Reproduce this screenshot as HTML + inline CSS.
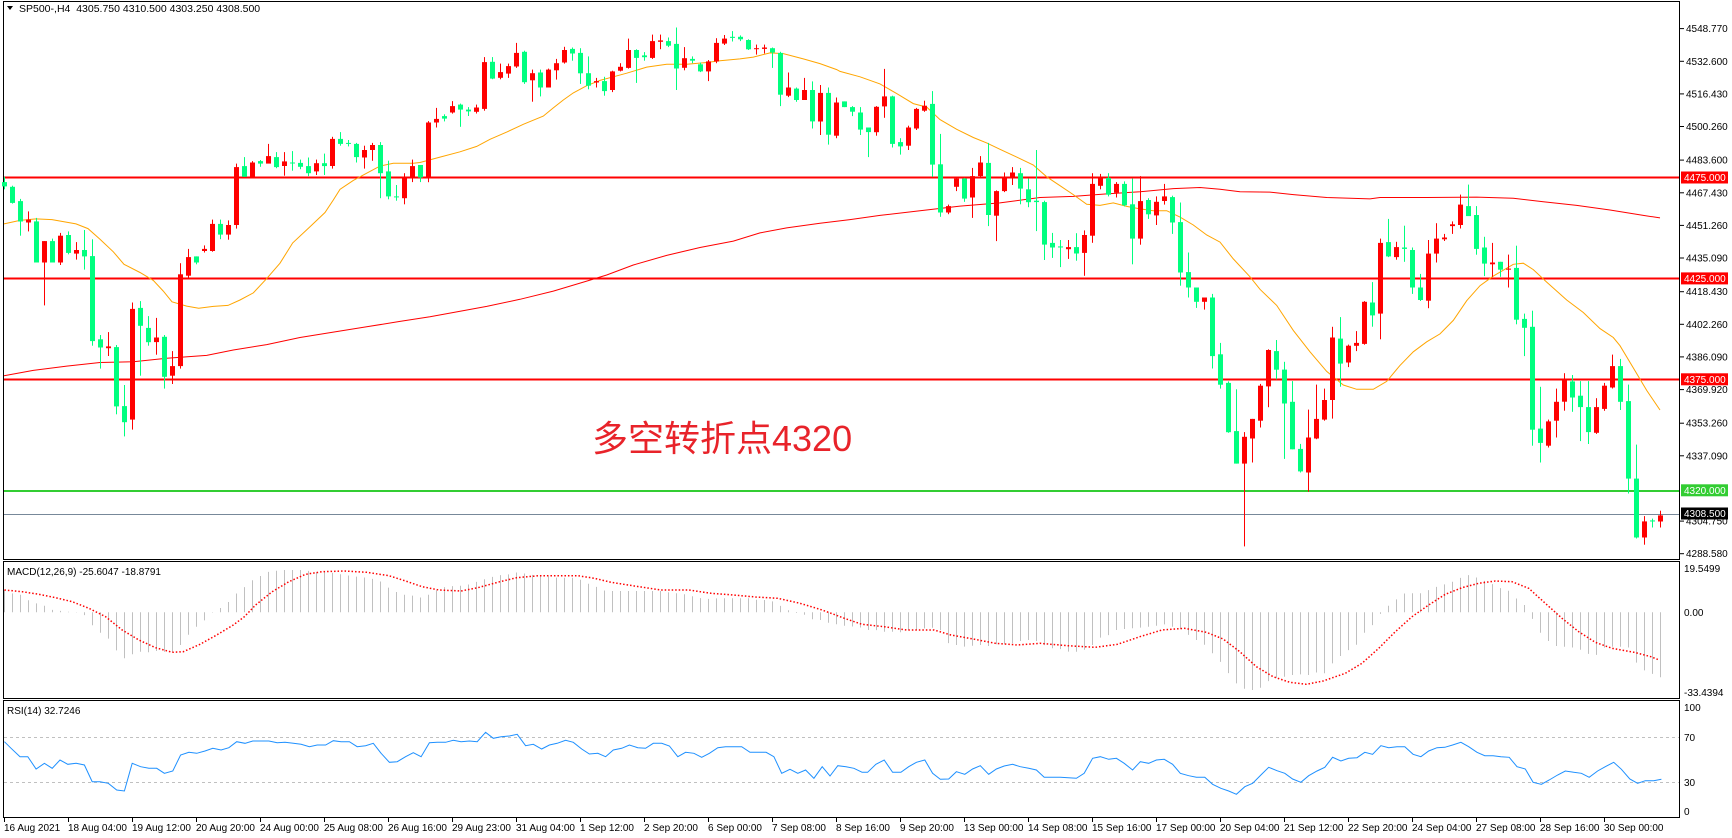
<!DOCTYPE html>
<html><head><meta charset="utf-8"><style>
html,body{margin:0;padding:0;background:#fff;width:1732px;height:838px;overflow:hidden}
svg{display:block}
text{font-family:"Liberation Sans","Noto Sans CJK SC",sans-serif}
</style></head><body>
<svg id="s" width="1732" height="838" xmlns="http://www.w3.org/2000/svg"></svg>
<script>
const S=document.getElementById('s');let h='';
function add(t){h+=t;}
const C=`G 510 522 495 530|G 523 568 520 570|G 563 620 557 660|R 615 623 592 648|G 620 735 610 735|R 675 735 675 855|G 675 735 668 735|R 660 735 652 742|G 658 708 648 712|R 700 710 678 727|G 700 718 644 755|G 717 955 670 968|G 950 973 938 1032|R 970 975 930 997|G 972 1138 966 1160|G 1137 1182 1078 1222|R 865 1175 847 1203|G 862 912 843 1052|G 918 958 885 968|R 945 958 890 993|G 943 1055 938 1088|R 1025 1052 983 1075|R 768 1025 737 1032|R 720 772 697 777|G 718 735 718 740|R 697 703 687 707|R 627 703 615 705|G 627 657 615 670|R 630 657 617 671|R 468 630 458 640|G 465 495 440 495|R 455 495 451 497|G 451 458 448 467|R 437 458 403 458|G 440 468 426 471|R 452 465 426 492|G 455 457 423 478|G 456 467 447 474|G 465 485 441 493|R 457 480 447 490|G 457 465 430 490|R 389 465 383 472|G 389 403 370 408|G 400 402 392 410|G 403 440 400 455|R 420 441 408 472|R 406 420 400 450|G 406 485 398 555|G 480 550 450 558|G 550 552 518 562|R 497 555 485 572|R 465 497 447 510|G 462 497 462 510|R 343 497 339 510|R 333 343 302 357|G 325 332 320 340|R 297 315 283 318|G 293 307 290 355|G 307 312 300 325|R 301 313 293 318|R 174 305 160 310|G 173 220 160 222|R 202 218 178 222|R 185 206 178 218|R 148 186 120 190|G 145 230 142 235|R 205 225 195 285|G 203 245 195 270|R 195 245 192 245|R 177 197 165 223|R 140 175 131 178|G 137 150 133 170|G 148 205 135 235|G 205 240 158 250|R 227 231 218 245|G 227 255 215 268|R 200 252 198 258|R 187 198 177 200|R 140 190 108 192|G 140 162 138 232|G 155 160 146 170|R 115 162 97 165|R 113 117 97 138|G 115 128 105 132|G 123 192 77 252|R 163 190 132 197|G 165 170 158 177|G 180 200 175 202|R 172 200 168 227|R 120 172 107 177|R 108 122 98 126|G 103 106 87 116|G 103 110 99 115|G 112 138 110 140|R 135 137 125 153|R 133 137 125 150|G 135 147 133 190|G 148 265 145 297|R 245 268 203 272|G 248 280 245 285|R 252 280 218 280|G 252 340 228 360|R 260 340 238 378|G 260 377 245 405|R 287 380 273 387|G 284 300 284 300|G 300 313 297 325|G 315 363 300 378|G 357 370 357 440|R 299 370 297 380|R 270 298 193 330|G 270 403 268 413|G 398 410 387 433|R 357 408 352 420|R 305 360 302 364|R 296 310 282 313|G 291 461 255 495|G 460 595 375 607|R 577 595 573 600|R 500 523 498 535|G 500 556 498 565|R 493 553 470 610|R 455 493 437 495|G 456 602 400 633|R 535 604 533 675|R 497 535 483 538|R 483 497 468 518|G 485 528 470 572|G 530 566 500 580|G 562 566 420 647|G 566 685 562 728|G 680 693 652 722|G 690 693 672 748|R 692 698 672 725|G 692 710 653 730|R 658 708 645 772|R 515 660 485 680|R 498 520 487 530|G 498 545 485 550|R 515 540 510 553|G 515 575 508 578|G 572 668 500 740|R 563 668 493 685|G 560 600 555 613|R 565 603 550 630|R 550 563 515 573|G 552 623 548 655|G 622 763 567 800|G 762 805 707 833|G 805 845 805 862|R 833 845 833 867|G 833 997 823 1032|G 992 1077 960 1088|G 1072 1210 1068 1212|G 1207 1298 1090 1298|R 1223 1298 1210 1530|R 1173 1228 1173 1295|R 1080 1178 1075 1197|R 980 1082 978 1140|G 983 1035 952 1062|G 1035 1130 1013 1285|G 1125 1258 1067 1258|G 1257 1320 1243 1323|R 1225 1323 1147 1377|R 1173 1228 1077 1230|R 1120 1175 1088 1178|R 945 1120 915 1172|G 948 1018 888 1083|R 968 1015 965 1028|R 960 968 927 983|R 845 963 843 965|G 847 883 790 915|R 680 878 668 950|G 678 718 613 720|R 692 720 677 727|G 693 697 632 733|G 700 805 693 823|G 805 840 767 843|R 710 842 672 863|R 668 710 625 735|R 665 670 655 675|R 628 633 620 655|R 573 630 545 640|G 577 605 517 605|G 602 697 577 713|G 693 738 663 773|R 735 740 680 775|G 733 755 733 775|R 752 755 713 805|G 750 895 688 908|G 893 918 878 997|G 915 1203 870 1248|G 1200 1240 1083 1295|R 1180 1248 1175 1253|R 1125 1178 1088 1225|R 1063 1125 1045 1150|G 1068 1113 1050 1153|G 1108 1140 1067 1235|G 1140 1210 1067 1243|R 1140 1212 1115 1215|R 1080 1145 1072 1150|R 1025 1085 993 1088|G 1025 1125 1005 1148|G 1123 1340 1077 1382|G 1340 1505 1245 1508|R 1460 1505 1445 1525|G 1457 1460 1452 1477|R 1443 1460 1430 1477`.split('|');
add('<rect x="3.5" y="1.5" width="1676" height="558" fill="none" stroke="#000"/>');
add('<rect x="3.5" y="561.5" width="1676" height="137" fill="none" stroke="#000"/>');
add('<rect x="3.5" y="700.5" width="1676" height="117" fill="none" stroke="#000"/>');
[177.5,278.5,379.5].forEach(y=>add(`<line x1="4" x2="1679" y1="${y}" y2="${y}" stroke="#ff0000" stroke-width="2"/>`));
add('<line x1="4" x2="1679" y1="491" y2="491" stroke="#32cd32" stroke-width="2"/>');
add('<line x1="4" x2="1679" y1="514.5" y2="514.5" stroke="#778899" stroke-width="1"/>');
function pts(arr,x0,sx,y0,sy){let o=[];for(let i=0;i<arr.length;i+=2)o.push([x0+arr[i]/sx,y0+arr[i+1]/sy]);return o;}
function pl(p,attr){add(`<polyline fill="none" ${attr} points="${p.map(a=>a[0].toFixed(1)+','+a[1].toFixed(1)).join(' ')}"/>`);}
const red=[].concat(
pts([12,1052,100,1037,200,1025,300,1015,400,1013,500,1003,620,995,700,980,800,965,900,945,1000,930,1100,915,1200,900,1290,887],0,3,0,2.8),
pts([100,875,200,858,300,838,400,815,500,787,560,770,640,742,740,715,840,693,940,675,1020,652,1100,638,1200,625,1290,615],420,3,0,2.8),
pts([120,603,240,590,360,577,480,568,600,553,700,550,800,543,900,537,1000,528,1080,525,1140,530,1200,537,1290,538],840,3,0,2.8),
pts([100,545,200,553,330,557,360,553,500,553,650,552,760,555,850,565,950,575,1050,588,1150,603,1200,610],1260,3,0,2.8));
pl(red,'stroke="#ff0000" stroke-width="1"');
const org=[].concat(
pts([12,627,60,617,108,613,156,615,228,627,264,640,300,670,340,705,372,740,420,763,460,785,490,815,516,845,560,857,596,863,640,858,684,855,720,840,760,820,800,780,840,737,878,680,930,635,975,595,1000,560,1020,530,1060,505,1100,485,1140,465,1180,457,1240,457],0,3,0,2.8),
pts([0,455,60,440,120,425,170,410,210,390,260,370,310,348,370,325,400,302,430,280,460,260,500,240,540,225,580,215,620,205,680,188,740,180,800,180,860,175,900,170,960,165,1000,160,1050,148,1090,150,1150,165,1200,178,1250,195],420,3,0,2.8),
pts([0,200,60,215,120,235,170,262,220,290,260,300,300,335,350,362,400,385,440,400,480,418,530,440,580,462,620,495,660,520,700,545,740,572,780,575,820,568,860,578,900,585,940,590,980,590,1020,608,1060,630,1100,658,1140,678,1180,725,1230,775],840,3,0,2.8),
pts([0,810,50,855,100,925,150,985,200,1040,250,1078,290,1090,340,1090,380,1068,420,1023,460,985,500,957,540,935,580,897,620,842,660,800,700,773,760,740,790,737,820,755,860,790,920,840,970,875,1020,920,1060,945,1080,968,1120,1030,1160,1093,1200,1148],1260,3,0,2.8));
pl(org,'stroke="#ffa500" stroke-width="1"');
C.forEach((c,i)=>{const a=c.split(' ');const col=a[0]=='G'?'#00ff7f':'#ff0000';const x=4+8*i;
const bt=+a[1]/2.8,bb=+a[2]/2.8,wt=+a[3]/2.8,wb=+a[4]/2.8;
add(`<rect x="${x}" y="${wt.toFixed(1)}" width="1" height="${(wb-wt).toFixed(1)}" fill="${col}"/>`);
add(`<rect x="${x-2}" y="${bt.toFixed(1)}" width="5" height="${Math.max(1,bb-bt).toFixed(1)}" fill="${col}"/>`);});
add('<text x="592" y="451" font-size="36" fill="#e8232a" font-family="\'Liberation Sans\',\'Noto Sans CJK SC\',sans-serif">多空转折点4320</text>');
add('<path d="M7 6 L13 6 L10 10 Z" fill="#000"/>');
add('<text x="19" y="12" font-size="10.5" fill="#000">SP500-,H4&#160;&#160;4305.750 4310.500 4303.250 4308.500</text>');
const ticks=[4548.77,4532.6,4516.43,4500.26,4483.6,4467.43,4451.26,4435.09,4418.43,4402.26,4386.09,4369.92,4353.26,4337.09,4304.75,4288.58];
const yp=p=>177.5+(4475-p)*2.018;
ticks.forEach(p=>{const y=yp(p);add(`<line x1="1680" x2="1684" y1="${y.toFixed(1)}" y2="${y.toFixed(1)}" stroke="#000"/><text x="1686" y="${(y+3.5).toFixed(1)}" font-size="10" fill="#000">${p.toFixed(3)}</text>`);});
[[4475,'#ff0000','#fff'],[4425,'#ff0000','#fff'],[4375,'#ff0000','#fff'],[4320,'#32cd32','#fff'],[4308.5,'#000','#fff']].forEach(([p,bg,fg])=>{const y=yp(p);add(`<rect x="1681" y="${(y-6).toFixed(1)}" width="47" height="12" fill="${bg}"/><text x="1684" y="${(y+3.5).toFixed(1)}" font-size="10" fill="${fg}">${p.toFixed(3)}</text>`);});
add('<text x="7" y="575" font-size="10" fill="#000">MACD(12,26,9) -25.6047 -18.8791</text>');
const hist=[].concat(
pts([8,105,22,115,36,118,50,135,65,145,80,152,95,165,110,168,137,172,152,180,166,210,180,232,195,250,209,285,224,310,238,298,253,290,267,292,282,288,296,290,311,290,325,270,340,238,354,215,369,195,383,172,398,158,412,140,426,115,441,95,455,75,470,62,484,50,499,47,513,45,528,45,542,45,557,48,571,52,586,52,600,54,614,58,629,62,643,65,658,68,672,72,686,80,701,100,715,112,730,120,744,122,758,128,773,118,787,105,802,95,816,93,830,92,845,88,859,80,874,72,888,65,902,60,917,58,931,52,946,56,960,60,975,62,989,65,1003,68,1018,68,1032,68,1047,75,1061,88,1076,97,1090,108,1104,108,1119,108,1133,108,1148,108,1162,108,1176,108,1191,108,1205,112,1220,115,1234,118,1249,125,1263,130,1277,132,1292,130,1306,130,1321,130,1335,130,1350,130,1364,135,1379,135,1393,140,1407,155,1422,168,1436,175,1450,180,1465,195,1480,195,1494,205,1508,208,1523,213,1537,215,1552,218],0,1.8,555,3),
pts([10,225,25,225,40,230,55,230,70,232,84,225,98,225,113,220,127,218,141,225,156,265,170,270,185,275,199,272,213,270,228,273,242,268,256,268,271,265,285,258,300,255,314,258,328,270,343,280,357,282,372,290,386,290,400,285,415,270,429,248,444,240,458,225,472,222,487,220,501,218,516,215,530,212,544,208,559,215,573,222,588,240,602,255,617,270,631,295,646,322,660,355,674,385,689,402,703,405,718,398,732,378,747,368,761,365,775,360,790,358,804,360,819,352,833,355,847,325,862,302,876,285,891,268,905,232,919,210,934,175,948,152,963,132,977,115,992,115,1006,115,1020,105,1035,95,1049,88,1063,80,1078,68,1092,60,1107,68,1121,78,1136,88,1150,100,1165,108,1179,132,1194,152,1208,195,1223,238,1237,260,1252,275,1266,275,1281,278,1295,285,1309,298,1324,300,1338,275,1353,275,1367,275,1382,278,1396,330,1410,348,1425,358,1439,368],862,1.8,555,3));
function interp(P,x){if(x<=P[0][0])return P[0][1];for(let i=1;i<P.length;i++){if(P[i][0]>=x){const a=P[i-1],b=P[i];return a[1]+(b[1]-a[1])*(x-a[0])/(b[0]-a[0]);}}return P[P.length-1][1];}
const zero=612.3;
for(let i=0;i<C.length;i++){const x=4+8*i+0.5;const y=interp(hist,x);add(`<line x1="${x}" x2="${x}" y1="${zero}" y2="${y.toFixed(1)}" stroke="#c0c0c0" stroke-width="1"/>`);}
const sig=[].concat(
pts([8,105,40,110,70,118,100,128,130,140,160,160,190,185,220,225,250,255,280,278,310,292,330,290,360,268,390,240,420,210,440,185,460,150,490,110,520,80,550,58,580,50,620,48,660,52,700,62,730,78,760,95,790,105,830,108,860,98,900,80,930,68,970,62,1010,62,1040,62,1070,70,1100,82,1150,95,1190,105,1240,105,1280,115,1320,120,1360,126,1400,130,1440,145,1480,165,1520,190],0,1.8,555,3),
pts([0,208,40,215,80,225,130,225,160,240,200,252,240,265,280,270,320,265,370,272,420,277,460,268,500,245,540,225,580,220,620,232,650,252,680,290,710,335,740,365,770,382,800,388,830,378,870,355,900,325,930,280,960,230,990,185,1020,150,1050,118,1080,98,1110,85,1140,78,1170,80,1200,100,1230,145,1260,190,1290,230,1320,262,1350,280,1390,292,1420,305,1435,315],862,1.8,555,3));
pl(sig,'stroke="#ff0000" stroke-width="1.5" stroke-dasharray="1.5,2"');
[[19.5499,568],[0,612],[-33.4394,692]].forEach(([v,y])=>add(`<text x="1684" y="${y+4}" font-size="10" fill="#000">${v==0?'0.00':v}</text>`));
add('<text x="7" y="714" font-size="10" fill="#000">RSI(14) 32.7246</text>');
[737,782].forEach(y=>add(`<line x1="4" x2="1679" y1="${y}.5" y2="${y}.5" stroke="#c0c0c0" stroke-dasharray="3,3"/>`));
const rsi=[].concat(
pts([8,560,20,580,36,605,50,605,65,642,80,625,94,640,108,615,122,628,137,625,152,630,166,680,180,680,195,685,210,705,224,708,238,625,253,635,268,640,282,640,296,655,311,648,325,600,340,592,354,595,369,588,383,580,398,585,412,578,426,560,441,565,455,558,484,558,499,563,513,562,528,565,542,568,557,575,571,570,586,570,600,557,614,560,629,560,643,575,658,572,672,565,686,595,701,622,715,620,730,605,744,593,758,605,773,563,787,562,802,562,816,556,830,560,845,558,859,560,874,532,888,550,902,545,917,543,931,538,946,572,960,568,975,582,989,570,1003,565,1018,556,1032,562,1047,582,1061,597,1076,595,1090,605,1104,585,1119,580,1133,570,1148,578,1162,580,1176,565,1191,565,1205,573,1220,605,1234,592,1249,595,1263,607,1277,595,1292,578,1306,575,1335,575,1350,592,1379,592,1393,605,1407,655,1422,643,1436,655,1450,645,1465,670,1480,635,1494,663,1508,632,1523,635,1537,640,1552,652],0,1.8,555,3),
pts([0,652,10,652,25,628,40,615,55,652,70,652,84,635,98,622,113,615,127,655,141,673,156,672,170,650,185,658,199,642,213,632,228,658,242,642,256,633,271,628,285,635,300,640,314,645,328,667,357,667,386,670,400,655,415,610,429,605,444,613,458,610,472,625,487,645,501,620,516,625,530,615,544,613,559,628,573,655,588,662,602,667,617,667,631,688,646,700,660,708,674,718,689,695,703,685,718,660,732,637,747,647,761,655,775,672,790,682,804,662,819,648,833,637,847,607,862,618,876,610,891,608,905,592,919,598,934,572,948,578,963,575,977,575,992,598,1006,605,1020,588,1035,578,1049,577,1063,570,1078,562,1092,575,1107,592,1121,602,1136,602,1150,605,1165,607,1179,635,1194,642,1208,682,1223,688,1237,675,1252,660,1266,648,1281,652,1295,655,1309,667,1324,648,1338,635,1353,622,1367,643,1382,672,1396,685,1410,677,1425,677,1439,673],862,1.8,555,3));
pl(rsi,'stroke="#1e90ff" stroke-width="1"');
[[100,707],[70,737],[30,782],[0,811]].forEach(([v,y])=>add(`<text x="1684" y="${y+4}" font-size="10" fill="#000">${v}</text>`));
const xl=['16 Aug 2021','18 Aug 04:00','19 Aug 12:00','20 Aug 20:00','24 Aug 00:00','25 Aug 08:00','26 Aug 16:00','29 Aug 23:00','31 Aug 04:00','1 Sep 12:00','2 Sep 20:00','6 Sep 00:00','7 Sep 08:00','8 Sep 16:00','9 Sep 20:00','13 Sep 00:00','14 Sep 08:00','15 Sep 16:00','17 Sep 00:00','20 Sep 04:00','21 Sep 12:00','22 Sep 20:00','24 Sep 04:00','27 Sep 08:00','28 Sep 16:00','30 Sep 00:00'];
xl.forEach((t,i)=>{const x=4+64*i;add(`<line x1="${x+0.5}" x2="${x+0.5}" y1="818" y2="822" stroke="#000"/><text x="${x}" y="831" font-size="10" fill="#000">${t}</text>`);});
S.innerHTML=h;
</script>
</body></html>
